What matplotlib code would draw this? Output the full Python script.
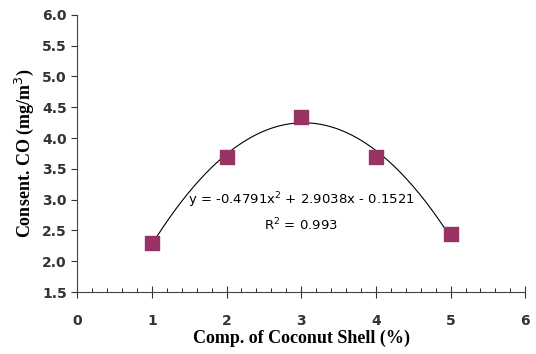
import numpy as np
import matplotlib.pyplot as plt
from matplotlib.ticker import MultipleLocator

comp = [1, 2, 3, 4, 5]
co = [2.30, 3.70, 4.35, 3.70, 2.45]
coef = [-0.4791, 2.9038, -0.1521]

fig = plt.figure(figsize=(5.36, 3.54), dpi=100)
ax = fig.add_axes([0.144, 0.175, 0.836, 0.783])

xs = np.linspace(1, 5, 200)
ax.plot(xs, np.polyval(coef, xs), color='black', lw=0.8, zorder=2)
ax.scatter(comp, co, marker='s', s=100, color='#993366', zorder=3)

ax.text(3.0, 2.99, 'y = -0.4791x$^2$ + 2.9038x - 0.1521', ha='center', va='center',
        fontsize=9.5, family='DejaVu Sans')
ax.text(3.0, 2.59, 'R$^2$ = 0.993', ha='center', va='center', fontsize=9.5, family='DejaVu Sans')

ax.set_xlim(0, 6)
ax.set_ylim(1.5, 6.0)
ax.xaxis.set_major_locator(MultipleLocator(1))
ax.xaxis.set_minor_locator(MultipleLocator(0.2))
ax.yaxis.set_major_locator(MultipleLocator(0.5))
ax.yaxis.set_major_formatter(plt.FormatStrFormatter('%.1f'))
ax.tick_params(axis='x', which='major', direction='inout', length=8, pad=12)
ax.tick_params(axis='x', which='minor', direction='in', length=3)
ax.tick_params(axis='y', direction='out', length=4)
ax.tick_params(labelsize=10, colors='#333333')
for lab in ax.get_xticklabels() + ax.get_yticklabels():
    lab.set_fontweight('bold')
    lab.set_color('#333333')
for s in ['top', 'right']:
    ax.spines[s].set_visible(False)
for s in ['left', 'bottom']:
    ax.spines[s].set_color('#444444')

ax.set_xlabel('Comp. of Coconut Shell (%)', family='Liberation Serif', fontweight='bold', fontsize=13, labelpad=1)
ax.set_ylabel('Consent. CO (mg/m$^3$)', family='Liberation Serif', fontweight='bold', fontsize=13, labelpad=4)

fig.savefig('out.png', dpi=100)
